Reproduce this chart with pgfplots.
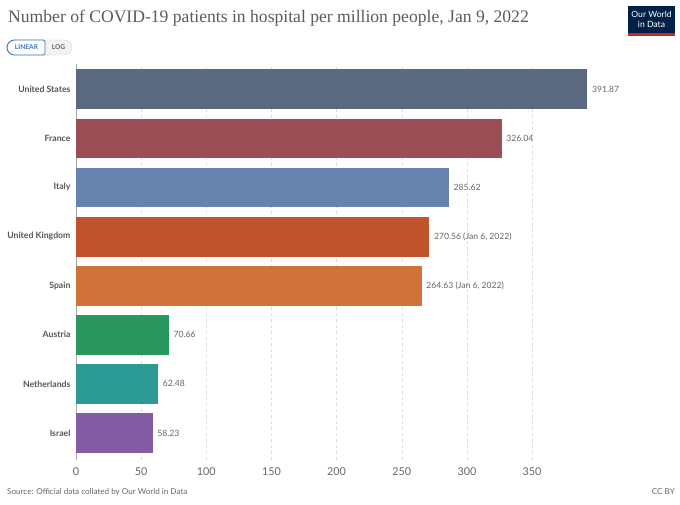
\documentclass[border=0pt]{standalone}
\usepackage{fontspec}
\setmainfont{Lato}
\newfontfamily\titlefont{Liberation Serif}
\usepackage{pgfplots}
\pgfplotsset{compat=1.18}

\definecolor{titlegray}{HTML}{5B5B5B}
\definecolor{labgray}{HTML}{555555}
\definecolor{valgray}{HTML}{666666}
\definecolor{gridgray}{HTML}{DDDDDD}
\definecolor{owidblue}{HTML}{002147}
\definecolor{owidred}{HTML}{CE261E}
\definecolor{linblue}{HTML}{3A73C0}
\definecolor{cUS}{HTML}{5A6880}
\definecolor{cFR}{HTML}{9A4D55}
\definecolor{cIT}{HTML}{6883AD}
\definecolor{cUK}{HTML}{BF532B}
\definecolor{cES}{HTML}{CF733A}
\definecolor{cAT}{HTML}{2A985E}
\definecolor{cNL}{HTML}{2A9A92}
\definecolor{cIL}{HTML}{845CA3}

\begin{document}
\begin{tikzpicture}
\fill[white] (0pt,0pt) rectangle (680pt,-505pt);

% title
\node[anchor=west, inner sep=0, text=titlegray,
      font=\titlefont\fontsize{17.6}{19}\selectfont] at (8pt,-18pt)
  {Number of COVID-19 patients in hospital per million people, Jan 9, 2022};

% linear / log switch
\draw[draw=gridgray, fill=black!5, rounded corners=7.5pt] (7pt,-40pt) rectangle (72pt,-55pt);
\draw[draw=linblue, fill=white, line width=0.9pt]
  (45pt,-40pt) [rounded corners=7.5pt] -- (7pt,-40pt) -- (7pt,-55pt) [rounded corners=1.5pt] -- (45pt,-55pt) -- cycle;
\node[text=linblue, font=\bfseries\fontsize{6.6}{7}\selectfont] at (26.5pt,-47.5pt) {LINEAR};
\node[text=valgray, font=\bfseries\fontsize{6.6}{7}\selectfont] at (58.5pt,-47.5pt) {LOG};

% logo
\fill[owidblue] (628pt,-6pt) rectangle (675pt,-33pt);
\fill[owidred] (628pt,-33pt) rectangle (675pt,-36pt);
\node[text=white, align=center, inner sep=0,
      font=\fontsize{8.6}{9.4}\selectfont] at (651.5pt,-19.5pt) {Our World\\in Data};

% footer
\node[anchor=west, inner sep=0, text=valgray, font=\fontsize{8.1}{9}\selectfont]
  at (7pt,-492pt) {Source: Official data collated by Our World in Data};
\node[anchor=east, inner sep=0, text=valgray, font=\fontsize{8.1}{9}\selectfont]
  at (675pt,-492pt) {CC BY};

\begin{axis}[
    at={(76pt,-460pt)}, anchor=south west,
    scale only axis,
    width=521.2pt, height=395.6pt,
    xmin=0, xmax=400,
    ymin=-0.55, ymax=7.5,
    xbar, bar width=0.79, bar shift=0pt,
    axis line style={draw=none},
    major tick length=0pt,
    xtick={50,100,...,350},
    extra x ticks={0},
    extra x tick style={grid style={solid, draw=black!35, line width=0.6pt}},
    xmajorgrids,
    grid style={dashed, draw=gridgray, line width=0.5pt},
    ytick={0,...,7},
    yticklabels={Israel,Netherlands,Austria,Spain,United Kingdom,Italy,France,United States},
    y tick label style={font=\bfseries\fontsize{8.7}{9}\selectfont, text=labgray},
    x tick label style={font=\fontsize{10.8}{12}\selectfont, text=valgray},
    /pgf/number format/assume math mode=true,
    xticklabel style={yshift=-4.5pt},
    yticklabel style={xshift=-2pt},
    clip=false,
    point meta=explicit symbolic,
    nodes near coords,
    every node near coord/.append style={font=\fontsize{8.6}{9}\selectfont,
      text=valgray, anchor=west, xshift=2pt},
  ]
  \addplot[fill=cUS, draw=cUS] coordinates {(391.87,7) [391.87]};
  \addplot[fill=cFR, draw=cFR] coordinates {(326.04,6) [326.04]};
  \addplot[fill=cIT, draw=cIT] coordinates {(285.62,5) [285.62]};
  \addplot[fill=cUK, draw=cUK] coordinates {(270.56,4) [270.56 (Jan 6, 2022)]};
  \addplot[fill=cES, draw=cES] coordinates {(264.63,3) [264.63 (Jan 6, 2022)]};
  \addplot[fill=cAT, draw=cAT] coordinates {(70.66,2) [70.66]};
  \addplot[fill=cNL, draw=cNL] coordinates {(62.48,1) [62.48]};
  \addplot[fill=cIL, draw=cIL] coordinates {(58.23,0) [58.23]};
\end{axis}
\end{tikzpicture}
\end{document}
